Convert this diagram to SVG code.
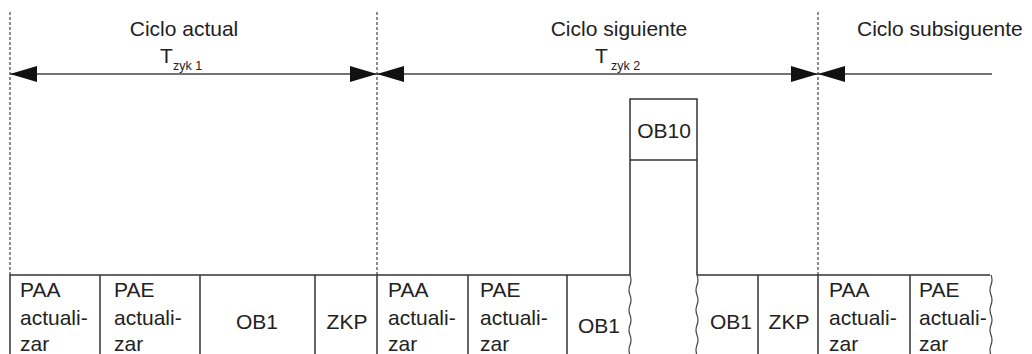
<svg xmlns="http://www.w3.org/2000/svg" width="1032" height="354" viewBox="0 0 1032 354">
<style>
.t{font-family:"Liberation Sans",Arial,sans-serif;font-size:21px;fill:#222}
.s{font-family:"Liberation Sans",Arial,sans-serif;font-size:12.5px;fill:#222}
.b{stroke:#333;stroke-width:1.5;fill:none}
.d{stroke:#444;stroke-width:1.2;stroke-dasharray:3,2;fill:none}
.w{stroke:#444;stroke-width:1.2;fill:none}
.a{stroke:#444;stroke-width:1.5;fill:none}
</style>
<defs>
<marker id="ah" viewBox="0 -8 27 16" refX="27" refY="0" markerWidth="27" markerHeight="16" markerUnits="userSpaceOnUse" orient="auto-start-reverse">
<path d="M0,-8 L27,0 L0,8 z" fill="#111"/>
</marker>
</defs>
<rect width="1032" height="354" fill="#fff"/>
<g id="guides">
<line class="d" x1="10" y1="12" x2="10" y2="275"/>
<line class="d" x1="377" y1="12" x2="377" y2="275"/>
<line class="d" x1="818" y1="12" x2="818" y2="275"/>
</g>
<g id="connectors">
<line class="a" x1="10" y1="74" x2="377" y2="74" marker-start="url(#ah)" marker-end="url(#ah)"/>
<line class="a" x1="377" y1="74" x2="818" y2="74" marker-start="url(#ah)" marker-end="url(#ah)"/>
<line class="a" x1="818" y1="74" x2="992" y2="74" marker-start="url(#ah)"/>
</g>
<g id="labels">
<text class="t" x="184" y="36" text-anchor="middle">Ciclo actual</text>
<text class="t" x="160" y="63">T</text>
<text class="s" x="173" y="70">zyk 1</text>
<text class="t" x="619" y="36" text-anchor="middle">Ciclo siguiente</text>
<text class="t" x="595" y="63">T</text>
<text class="s" x="611" y="70">zyk 2</text>
<text class="t" x="857" y="36">Ciclo subsiguente</text>
</g>
<g id="cycle1">
<path class="b" d="M10,354 V275 H630 M100,275 V354 M200,275 V354 M315,275 V354 M377,275 V354"/>
<g id="paa1"><text class="t" x="20" y="297">PAA</text><text class="t" x="20" y="325">actuali-</text><text class="t" x="20" y="351">zar</text></g>
<g id="pae1"><text class="t" x="114" y="297">PAE</text><text class="t" x="114" y="325">actuali-</text><text class="t" x="114" y="351">zar</text></g>
<g id="ob1a"><text class="t" x="257" y="329" text-anchor="middle">OB1</text></g>
<g id="zkp1"><text class="t" x="347" y="329" text-anchor="middle">ZKP</text></g>
</g>
<g id="cycle2">
<path class="b" d="M468,275 V354 M567,275 V354"/>
<g id="paa2"><text class="t" x="388" y="297">PAA</text><text class="t" x="388" y="325">actuali-</text><text class="t" x="388" y="351">zar</text></g>
<g id="pae2"><text class="t" x="480" y="297">PAE</text><text class="t" x="480" y="325">actuali-</text><text class="t" x="480" y="351">zar</text></g>
<g id="ob1b"><text class="t" x="599" y="333" text-anchor="middle">OB1</text></g>
</g>
<g id="ob10">
<path class="b" d="M630,275 V99 H697 V275 M630,160 H697"/>
<path class="w" d="M630,275 q2,5 0,10 t0,10 t0,10 t0,10 t0,10 t0,10 t0,10 t0,10"/>
<path class="w" d="M697,275 q2,5 0,10 t0,10 t0,10 t0,10 t0,10 t0,10 t0,10 t0,10"/>
<text class="t" x="664" y="138" text-anchor="middle">OB10</text>
</g>
<g id="cycle2b">
<path class="b" d="M697,275 H990 M758,275 V354 M818,275 V354 M910,275 V354"/>
<g id="ob1c"><text class="t" x="731" y="329" text-anchor="middle">OB1</text></g>
<g id="zkp2"><text class="t" x="789" y="329" text-anchor="middle">ZKP</text></g>
</g>
<g id="cycle3">
<g id="paa3"><text class="t" x="829" y="297">PAA</text><text class="t" x="829" y="325">actuali-</text><text class="t" x="829" y="351">zar</text></g>
<g id="pae3"><text class="t" x="919" y="297">PAE</text><text class="t" x="919" y="325">actuali-</text><text class="t" x="919" y="351">zar</text></g>
<path class="w" d="M991,275 q2,5 0,10 t0,10 t0,10 t0,10 t0,10 t0,10 t0,10 t0,10"/>
</g>
</svg>
